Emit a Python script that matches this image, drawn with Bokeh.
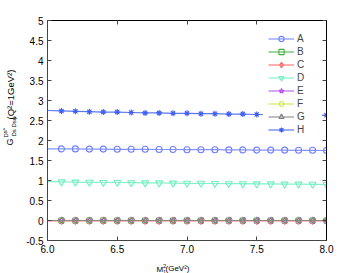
from bokeh.plotting import figure
from bokeh.layouts import row
from bokeh.models import (Range1d, FixedTicker, LinearAxis, Legend, LegendItem, Label,
                          PrintfTickFormatter, CustomJSTickFormatter)
from bokeh.embed import file_html
from bokeh.resources import INLINE

# ---- data ----
x_vals = [6.0, 6.1, 6.2, 6.3, 6.4, 6.5, 6.6, 6.7, 6.8, 6.9, 7.0,
          7.1, 7.2, 7.3, 7.4, 7.5, 7.6, 7.7, 7.8, 7.9, 8.0]
A = [1.79, 1.79, 1.79, 1.785, 1.785, 1.78, 1.78, 1.78, 1.775, 1.775, 1.77,
     1.77, 1.77, 1.765, 1.765, 1.76, 1.76, 1.76, 1.755, 1.755, 1.75]
B = [0.0] * 21
C = [-0.01] * 21
D = [0.97, 0.965, 0.96, 0.955, 0.95, 0.95, 0.945, 0.94, 0.94, 0.935, 0.93,
     0.93, 0.925, 0.92, 0.92, 0.915, 0.915, 0.91, 0.91, 0.905, 0.90]
E = [0.0] * 21
F = [0.0] * 21
G = [0.0] * 21
H = [2.75, 2.74, 2.73, 2.72, 2.71, 2.71, 2.70, 2.69, 2.69, 2.68, 2.68,
     2.67, 2.67, 2.66, 2.66, 2.65, 2.65, 2.64, 2.64, 2.64, 2.63]
names = ["A", "B", "C", "D", "E", "F", "G", "H"]
series = [A, B, C, D, E, F, G, H]
x_ticks = [6.0, 6.5, 7.0, 7.5, 8.0]
y_ticks = [-0.5, 0, 0.5, 1, 1.5, 2, 2.5, 3, 3.5, 4, 4.5, 5]

colors = ["#7080ff", "#40b040", "#ff6060", "#70f0c0", "#b050f0", "#c8e840", "#808080", "#4060f0"]
markers = ["circle", "square", "diamond", "inverted_triangle", "star", "hex", "triangle", "asterisk"]
angles = [0, 0, 0, 0, 0, 0, 1.5708, 0]
msizes = [6, 5, 7, 7, 7, 5, 6, 6]

FONT = "Liberation Sans"
X0, X1, Y0, Y1 = 6.0, 8.0, -0.5, 5.0
LW = 20                              # width of the strip holding the y-axis title
FL, FR, FT, FB = 47, 326, 20, 240    # frame edges in page pixels

# ---- strip with the rotated y-axis title ----
ylab = figure(width=LW, height=273, output_backend="svg", toolbar_location=None,
              x_range=Range1d(0, 1), y_range=Range1d(0, 1),
              x_axis_location=None, y_axis_location=None,
              min_border_left=0, min_border_right=0, min_border_top=0, min_border_bottom=0)
ylab.outline_line_color = None
ylab.grid.visible = False
ylab.background_fill_color = "white"
ylab.border_fill_color = "white"

def add_ytext(t, px, py, fs):
    ylab.add_layout(Label(x=px, y=273 - py, x_units="screen", y_units="screen",
                          text=t, angle=1.5708, text_align="left", text_baseline="middle",
                          text_font=FONT, text_font_size=fs, text_color="black"))

add_ytext("G", 9.5, 178, "9px")
add_ytext("Ds*", 5, 170, "6px")
add_ytext("Ds Dsφ", 13.5, 169, "6px")
add_ytext("(Q²=1GeV²)", 10, 152, "9.5px")

# ---- main plot ----
p = figure(width=360 - LW, height=273, output_backend="svg", toolbar_location=None,
           x_range=Range1d(X0, X1), y_range=Range1d(Y0, Y1),
           min_border_left=FL - LW, min_border_right=360 - FR, min_border_top=FT,
           min_border_bottom=273 - FB)
p.xgrid.visible = False
p.ygrid.visible = False
p.outline_line_color = "black"
p.background_fill_color = "white"
p.border_fill_color = "white"

for ax in [p.xaxis[0], p.yaxis[0]]:
    ax.major_tick_in = 4
    ax.major_tick_out = 0
    ax.minor_tick_in = 0
    ax.minor_tick_out = 0
    ax.axis_line_color = "#444444"
    ax.major_tick_line_color = "#444444"
    ax.major_label_text_font = FONT
    ax.major_label_text_font_size = "10px"
    ax.major_label_text_color = "black"
    ax.major_label_standoff = 4

p.xaxis[0].ticker = FixedTicker(ticks=x_ticks)
p.xaxis[0].formatter = PrintfTickFormatter(format="%.1f")
p.yaxis[0].ticker = FixedTicker(ticks=y_ticks)
p.yaxis[0].formatter = CustomJSTickFormatter(code="return tick.toString();")

top = LinearAxis(ticker=FixedTicker(ticks=x_ticks), major_tick_in=4, major_tick_out=0,
                 minor_tick_in=0, minor_tick_out=0, formatter=CustomJSTickFormatter(code="return '';"),
                 major_label_text_font_size="1px", major_label_standoff=0,
                 axis_line_color="black", major_tick_line_color="#444444")
right = LinearAxis(ticker=FixedTicker(ticks=y_ticks), major_tick_in=4, major_tick_out=0,
                   minor_tick_in=0, minor_tick_out=0, formatter=CustomJSTickFormatter(code="return '';"),
                   major_label_text_font_size="1px", major_label_standoff=0,
                   axis_line_color="black", major_tick_line_color="#444444")
p.add_layout(top, "above")
p.add_layout(right, "right")

items = []
for nm, ys, c, mk, ang, ms in zip(names, series, colors, markers, angles, msizes):
    lr = p.line(x_vals, ys, line_color=c, line_width=1.2, line_alpha=0.85)
    mr = p.scatter(x_vals[1:], ys[1:], marker=mk, size=ms, angle=ang,
                   line_color=c, fill_color=None, line_width=1.1)
    items.append(LegendItem(label=nm, renderers=[lr, mr]))

legend = Legend(items=items, location=(216, 99), margin=0, padding=5,
                glyph_width=26, glyph_height=13, label_height=13, spacing=0,
                label_standoff=3, label_text_font=FONT, label_text_font_size="10px",
                border_line_alpha=0, background_fill_color="white", background_fill_alpha=1)
p.add_layout(legend, "center")

def px2x(px):
    return X0 + (px - FL) * (X1 - X0) / (FR - FL)

def py2y(py):
    return Y1 - (py - FT) * (Y1 - Y0) / (FB - FT)

def add_xtext(t, px, py, fs, side):
    p.add_layout(Label(x=px2x(px), y=py2y(py), text=t,
                       text_align="left", text_baseline="middle",
                       text_font=FONT, text_font_size=fs, text_color="black"), side)

# x-axis label: M_1^2(GeV²)
add_xtext("M", 156, 268.5, "8px", "above")
add_xtext("2", 162.5, 265, "5.5px", "right")
add_xtext("1", 162.5, 271, "5.5px", "right")
add_xtext("(GeV²)", 165, 268, "8px", "below")

open("out.html", "w").write(file_html(row(ylab, p), INLINE))
